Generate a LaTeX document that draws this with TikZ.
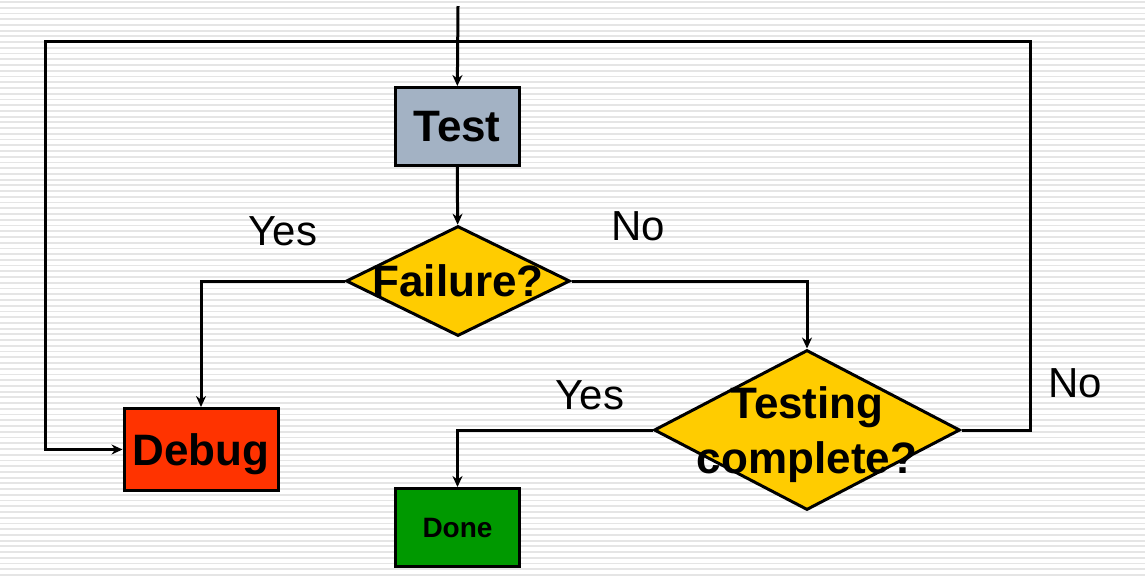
\documentclass[tikz,border=0pt]{standalone}
\usepackage{fontspec}
\setmainfont{Liberation Sans}
\usepackage{tikz}
\usetikzlibrary{arrows.meta, shapes.geometric, calc}

\definecolor{testgray}{RGB}{163,178,196}
\definecolor{askyellow}{RGB}{255,204,0}
\definecolor{debugred}{RGB}{255,51,0}
\definecolor{donegreen}{RGB}{0,153,0}

\begin{document}
\begin{tikzpicture}[x=0.5pt, y=-0.5pt,
        stripe/.style={draw=black!10, line width=0.9pt},
        box/.style={draw, line width=1.5pt, rectangle, inner sep=0pt, text depth=0pt, font=\bfseries\fontsize{22}{26}\selectfont},
        ask/.style={draw, line width=1.5pt, diamond, inner sep=0pt},
        asktext/.style={font=\bfseries\fontsize{22}{27.5}\selectfont, align=center},
        answer/.style={font=\fontsize{21}{25}\selectfont},
        arr/.style={line width=1.5pt, -{Stealth[length=5.5pt, width=5pt]}}]
        \useasboundingbox (0,0) rectangle (1145,575);
        \fill[white] (0,0) rectangle (1145,575);
        % lined background
        \foreach \y in {2,7.73,...,575}
            \draw[stripe] (0,\y) -- (1145,\y);

        \node[box, fill=testgray, minimum width=62pt, minimum height=39pt] (test) at (457,126.5) {Test};
        \node[ask, fill=askyellow, minimum width=112pt, minimum height=55pt,
            label={[asktext]center:Failure?}] (fail) at (458,281) {};
        \node[ask, fill=askyellow, minimum width=153pt, minimum height=80pt,
            label={[asktext, yshift=-2.5pt]center:Testing\\complete?}] (tc) at (807,430) {};
        \node[box, fill=debugred, minimum width=77pt, minimum height=41pt] (debug) at (201,449.5) {Debug};
        \node[box, fill=donegreen, minimum width=62pt, minimum height=39pt, font=\bfseries\fontsize{14}{17}\selectfont] (done) at (457.5,527.5) {Done};

        \node[answer] (yesfail) at (283,231) {Yes};
        \node[answer] (nofail) at (638,226) {No};
        \node[answer] (yestc) at (590,395) {Yes};
        \node[answer] (notc) at (1075,383) {No};

        \coordinate (start) at (458,6);
        \coordinate (loopr) at (1030,41);
        \coordinate (loopl) at (45,41);

        \draw[arr] (start) -- (test);
        \draw[arr] (test) -- (fail);
        \draw[arr] (fail.west) -| (debug.north);
        \draw[arr] (fail.east) -| (tc.north);
        \draw[arr] (tc.west) -| (done.north);
        \draw[arr] (tc.east) -| (loopr) -- (loopl) |- (debug.west);
\end{tikzpicture}
\end{document}
